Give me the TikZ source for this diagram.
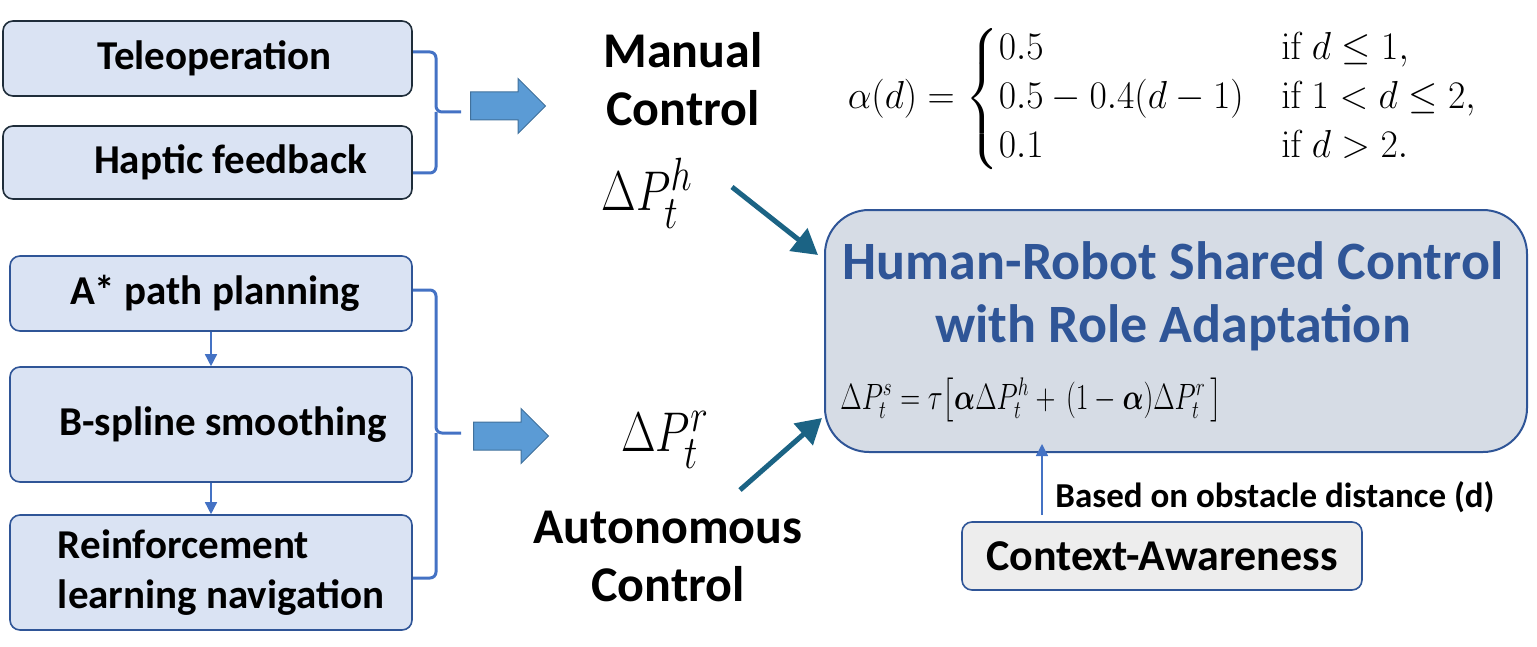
\documentclass[tikz,border=0pt]{standalone}
\usepackage{amsmath}
\usepackage{graphicx}
\usepackage[no-math]{fontspec}
\setmainfont{Carlito}
\usetikzlibrary{arrows.meta,shapes.arrows}

\definecolor{boxblue}{HTML}{DAE3F3}
\definecolor{edgedark}{HTML}{1F2D3A}
\definecolor{edgeblue}{HTML}{2F5597}
\definecolor{bracecol}{HTML}{4472C4}
\definecolor{arrowfill}{HTML}{5B9BD5}
\definecolor{arrowedge}{HTML}{41719C}
\definecolor{feedteal}{HTML}{1B6384}
\definecolor{panelgray}{HTML}{D6DCE5}
\definecolor{ctxfill}{HTML}{EDEDED}

% tall, narrow math as in the original drawing
\newcommand{\tallmath}[2][1.125]{\scalebox{0.9}[#1]{$#2$}}

\begin{document}
\begin{tikzpicture}[x=0.5pt, y=-0.5pt,
    lbox/.style={draw=edgeblue, fill=boxblue, rounded corners=5pt, line width=0.8pt, inner sep=0pt, minimum width=201pt, font=\fontsize{20.5}{25}\selectfont\bfseries},
    bigtext/.style={align=center, inner sep=0pt, font=\fontsize{25}{29}\selectfont\bfseries},
    bracket/.style={draw=bracecol, line width=1.5pt, rounded corners=3pt},
    blockarrow/.style={single arrow, draw=arrowedge, fill=arrowfill, line width=0.5pt, inner xsep=0pt, inner ysep=6.75pt, minimum height=37.5pt, minimum width=27pt, single arrow head extend=6.75pt, anchor=tail},
    feed/.style={draw=feedteal, line width=2.5pt, -{Triangle[length=12.5pt, width=14pt]}},
    thinarrow/.style={draw=bracecol, line width=0.75pt, -{Triangle[length=6pt, width=6pt]}}]
    \useasboundingbox (0,0) rectangle (1537,647);

    % Manual inputs (upper left)
    \node[lbox, draw=edgedark, minimum width=204.5pt, minimum height=37.5pt] (in-1) at (207.5,58.5) {\hspace*{7pt}Teleoperation};
    \node[lbox, draw=edgedark, minimum width=204.5pt, minimum height=36.5pt] (in-2) at (207.5,162.5) {\hspace*{23pt}Haptic feedback};

    % Planning pipeline (lower left)
    \node[lbox, minimum height=37.5pt] (pl-1) at (211,293.5) {\hspace*{4pt}A* path planning};
    \node[lbox, minimum height=57.5pt] (pl-2) at (211,424.5) {\hspace*{12pt}B-spline smoothing};
    \node[lbox, minimum height=57.5pt, align=left] (pl-3) at (211,572.5) {\hspace*{10pt}Reinforcement\\\hspace*{10pt}learning navigation};
    \draw[thinarrow] (pl-1.south) -- (pl-2.north);
    \draw[thinarrow] (pl-2.south) -- (pl-3.north);

    % Brackets and block arrows
    \draw[bracket] (413,52) -| (436,112) -- (461,112);
    \draw[bracket] (413,173) -| (436,112);
    \draw[bracket] (413,290) -| (436,433) -- (461,433);
    \draw[bracket] (413,578) -| (436,433);
    \node[blockarrow] (ba-1) at (470,106) {};
    \node[blockarrow] (ba-2) at (473,436) {};

    % Manual and autonomous control
    \node[bigtext] (mc) at (683,79) {Manual\\Control};
    \node[inner sep=0pt, font=\fontsize{24.88}{28}\selectfont] (dp-h) at (647,193) {\tallmath{\Delta P_t^h}};
    \node[inner sep=0pt, font=\fontsize{24.88}{28}\selectfont] (dp-r) at (665,440) {\tallmath{\Delta P_t^r}};
    \node[bigtext] (ac) at (668,556) {Autonomous\\Control};

    % Role adaptation rule
    \node[inner sep=0pt, font=\fontsize{17.28}{18}\selectfont] (rule) at (1163,99)
        {\scalebox{1.09}[1.13]{$\alpha(d)=\begin{cases}0.5 & \mathrm{if}\ d\le 1,\\ 0.5-0.4(d-1) & \mathrm{if}\ 1<d\le 2,\\ 0.1 & \mathrm{if}\ d>2.\end{cases}$}};

    % Shared control panel
    \node[draw=edgeblue, fill=panelgray, line width=1pt, rounded corners=22pt, minimum width=351pt, minimum height=121pt] (sc) at (1176,331) {};
    \node[inner sep=0pt, align=center, text=edgeblue, font=\fontsize{27}{31.5}\selectfont\bfseries] (sc-t) at (1173,296) {Human-Robot Shared Control\\with Role Adaptation};
    \node[inner sep=0pt, anchor=west, font=\fontsize{17.28}{21}\selectfont] (sc-f) at (840,400)
        {\scalebox{0.8}[1.06]{$\Delta P_t^s=\tau\big[\boldsymbol{\alpha}\Delta P_t^h+\,(1-\boldsymbol{\alpha})\Delta P_t^r\,\big]$}};

    \coordinate (h-tail) at (732,187);
    \coordinate (r-tail) at (740,490);
    \draw[feed] (h-tail) -- ([xshift=-3pt, yshift=38pt]sc.west);
    \draw[feed] (r-tail) -- ([xshift=-1pt, yshift=-43.5pt]sc.west);

    % Context awareness
    \node[draw=edgeblue, fill=ctxfill, line width=0.8pt, rounded corners=5pt, minimum width=200pt, minimum height=34pt, inner sep=0pt, font=\fontsize{22}{26}\selectfont\bfseries] (ctx) at (1162,556) {Context-Awareness};
    \node[inner sep=0pt, anchor=west, font=\fontsize{17.5}{20}\selectfont\bfseries] (dist) at (1055,497) {Based on obstacle distance (d)};
    \coordinate (a-pt) at (1042,444);
    \draw[thinarrow] ([yshift=3pt]ctx.north -| a-pt) -- (a-pt);
\end{tikzpicture}
\end{document}
